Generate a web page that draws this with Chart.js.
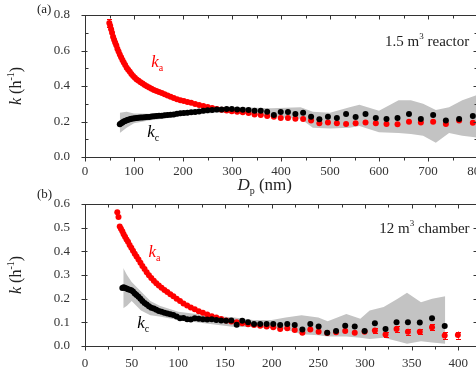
<!DOCTYPE html>
<html><head><meta charset="utf-8">
<script src="https://cdn.jsdelivr.net/npm/chart.js@4.4.1/dist/chart.umd.min.js"></script>
<style>
html,body{margin:0;padding:0;background:#fff;overflow:hidden;width:476px;height:375px;}
#wrap{position:relative;width:476px;height:375px;overflow:hidden;}
canvas{position:absolute;left:0;}
#c1{top:0;width:500px;height:200px;}
#c2{top:180px;width:500px;height:195px;}
</style></head><body>
<div id="wrap"><canvas id="c1" width="500" height="200"></canvas><canvas id="c2" width="500" height="195"></canvas></div>
<script>
// particle diameter bins (nm)
const dp = [34.6, 35.9, 37.2, 38.5, 40.0, 41.4, 42.9, 44.5, 46.1, 47.8, 49.6, 51.4, 53.3, 55.2, 57.3, 59.4, 61.5, 63.8, 66.1, 68.5,
  71.0, 73.7, 76.4, 79.1, 82.0, 85.1, 88.2, 91.4, 94.7, 98.2, 101.8, 105.5, 109.4, 113.4, 117.6, 121.9, 126.3, 131.0, 135.8, 140.7,
  145.9, 151.2, 156.8, 162.5, 168.5, 174.7, 181.1, 187.7, 194.6, 201.7, 209.1, 216.7, 224.7, 232.9, 241.4, 250.3, 259.5, 269.0, 278.8, 289.0,
  299.6, 310.6, 322.0, 333.8, 346.0, 358.7, 371.8, 385.4, 399.5, 414.2, 429.4, 445.1, 461.4, 478.3, 495.8, 514.0, 532.8, 552.3, 572.5, 593.5,
  615.3, 637.8, 661.2, 685.4, 710.5, 736.5, 763.5, 791.5];

// (a) 1.5 m3 reactor
const topKaD = dp.slice(10, 88);
const topKa = [0.755, 0.74, 0.72, 0.70, 0.678, 0.66, 0.645, 0.63, 0.61, 0.595,
  0.578, 0.562, 0.547, 0.532, 0.518, 0.503, 0.492, 0.48, 0.468, 0.456,
  0.446, 0.437, 0.429, 0.421, 0.414, 0.406, 0.398, 0.391, 0.384, 0.378,
  0.372, 0.366, 0.36, 0.353, 0.346, 0.339, 0.332, 0.326, 0.32, 0.315,
  0.31, 0.305, 0.299, 0.293, 0.288, 0.282, 0.276, 0.27, 0.266, 0.262,
  0.258, 0.255, 0.252, 0.248, 0.24, 0.236, 0.231, 0.227, 0.22, 0.22,
  0.216, 0.214, 0.205, 0.19, 0.195, 0.19, 0.186, 0.19, 0.195, 0.19,
  0.186, 0.184, 0.199, 0.195, 0.199, 0.186, 0.205, 0.193];
const topKcD = dp.slice(20, 88);
const topKc = [0.185, 0.19, 0.195, 0.2, 0.203, 0.207, 0.21, 0.213, 0.215, 0.217,
  0.219, 0.22, 0.221, 0.222, 0.223, 0.224, 0.225, 0.226, 0.228, 0.23,
  0.231, 0.232, 0.233, 0.235, 0.236, 0.238, 0.24, 0.243, 0.246, 0.248,
  0.25, 0.252, 0.254, 0.257, 0.26, 0.263, 0.265, 0.267, 0.268, 0.27,
  0.27, 0.268, 0.266, 0.265, 0.26, 0.26, 0.255, 0.237, 0.253, 0.253,
  0.242, 0.25, 0.227, 0.213, 0.227, 0.22, 0.242, 0.225, 0.242, 0.22,
  0.214, 0.22, 0.242, 0.214, 0.237, 0.205, 0.214, 0.231];
const topBandD  = [71, 85, 100, 130, 170, 220, 270, 320, 380, 440, 465, 500, 540, 560, 600, 640, 665, 690, 716, 743, 770, 800];
const topBandHi = [0.25, 0.255, 0.245, 0.243, 0.25, 0.265, 0.28, 0.28, 0.275, 0.28, 0.255, 0.25, 0.28, 0.295, 0.26, 0.32, 0.32, 0.30, 0.265, 0.28, 0.32, 0.35];
const topBandLo = [0.135, 0.165, 0.19, 0.205, 0.22, 0.24, 0.25, 0.245, 0.225, 0.215, 0.165, 0.16, 0.165, 0.175, 0.14, 0.135, 0.13, 0.12, 0.08, 0.135, 0.12, 0.11];
const topErrD = [49.6];
const topErr = [0.02];

// (b) 12 m3 chamber
const botKaD = dp.slice(0, 69);
const botKa = [0.565, 0.545, 0.505, 0.495, 0.485, 0.472, 0.462, 0.45, 0.44, 0.427,
  0.415, 0.402, 0.39, 0.378, 0.365, 0.352, 0.338, 0.325, 0.312, 0.299,
  0.287, 0.276, 0.265, 0.256, 0.246, 0.237, 0.228, 0.219, 0.21, 0.2,
  0.19, 0.18, 0.171, 0.163, 0.155, 0.147, 0.14, 0.133, 0.126, 0.12,
  0.114, 0.108, 0.104, 0.1, 0.096, 0.092, 0.089, 0.086, 0.082, 0.079,
  0.072, 0.075, 0.068, 0.056, 0.07, 0.06, 0.055, 0.058, 0.063, 0.056,
  0.06, 0.065, 0.049, 0.072, 0.06, 0.06, 0.079, 0.044, 0.046];
const botKcD = dp.slice(4, 68);
const botKc = [0.245, 0.248, 0.245, 0.243, 0.24, 0.238, 0.236, 0.23, 0.222, 0.215,
  0.208, 0.2, 0.19, 0.182, 0.175, 0.168, 0.162, 0.158, 0.153, 0.148,
  0.145, 0.14, 0.137, 0.134, 0.131, 0.125, 0.117, 0.118, 0.113, 0.112,
  0.117, 0.115, 0.113, 0.112, 0.113, 0.11, 0.108, 0.107, 0.108, 0.09,
  0.107, 0.1, 0.093, 0.093, 0.093, 0.093, 0.089, 0.093, 0.089, 0.07,
  0.093, 0.082, 0.056, 0.063, 0.086, 0.082, 0.063, 0.096, 0.072, 0.1,
  0.1, 0.099, 0.117, 0.084];
const botBandD  = [41, 45, 50, 60, 70, 80, 100, 130, 160, 180, 200, 215, 232, 250, 260, 280, 295, 305, 320, 335, 345, 360, 372, 386];
const botBandHi = [0.33, 0.30, 0.27, 0.23, 0.19, 0.17, 0.145, 0.13, 0.12, 0.11, 0.11, 0.12, 0.13, 0.12, 0.105, 0.135, 0.115, 0.15, 0.165, 0.20, 0.225, 0.185, 0.20, 0.21];
const botBandLo = [0.16, 0.17, 0.19, 0.15, 0.13, 0.125, 0.11, 0.095, 0.08, 0.08, 0.075, 0.07, 0.05, 0.045, 0.04, 0.04, 0.035, 0.03, 0.035, 0.02, 0.01, 0.02, 0.015, 0.01];
const botErrD = [310.6, 322.0, 333.8, 346.0, 358.7, 371.8, 385.4, 399.5];
const botErr = [0.01, 0.01, 0.012, 0.012, 0.01, 0.013, 0.015, 0.015];

const FAMILY = "'Liberation Serif', 'Times New Roman', serif";
const RED = '#ff0000', GREY = '#c3c3c3', AXIS = '#333';
Chart.defaults.font.family = FAMILY;
Chart.defaults.color = AXIS;

const zip = (xs, ys) => xs.map((x, i) => ({x: x, y: ys[i]}));

function rich(ctx, x, y, segs, align) {
  let w = 0;
  const ms = segs.map(s => {
    ctx.font = (s.it ? 'italic ' : '') + s.sz + 'px ' + FAMILY;
    const m = ctx.measureText(s.t).width; w += m; return m;
  });
  let cx = align === 'right' ? x - w : align === 'center' ? x - w / 2 : x;
  segs.forEach((s, i) => {
    ctx.font = (s.it ? 'italic ' : '') + s.sz + 'px ' + FAMILY;
    ctx.fillStyle = s.c || '#222';
    ctx.textBaseline = 'alphabetic';
    ctx.textAlign = 'left';
    ctx.fillText(s.t, cx, y + (s.dy || 0));
    cx += ms[i];
  });
}

function makeChart(id, cfg) {
  const framePlugin = {
    id: 'frame',
    afterDraw(chart) {
      const ctx = chart.ctx, a = chart.chartArea, xs = chart.scales.x, ys = chart.scales.y;
      const L = Math.round(a.left) + 0.5, R = Math.round(a.right) + 0.5, T = Math.round(a.top) + 0.5, B = Math.round(a.bottom) + 0.5;
      ctx.save();
      // error bars
      ctx.strokeStyle = RED; ctx.lineWidth = 1;
      cfg.errD.forEach((d, i) => {
        const j = cfg.kaD.indexOf(d);
        if (j < 0) return;
        const px = Math.round(xs.getPixelForValue(d)) + 0.5;
        const v = cfg.ka[j], e = cfg.err[i];
        const y1 = ys.getPixelForValue(v + e), y2 = ys.getPixelForValue(v - e);
        ctx.beginPath();
        ctx.moveTo(px, y1); ctx.lineTo(px, y2);
        ctx.moveTo(px - 2.5, Math.round(y1) + 0.5); ctx.lineTo(px + 2.5, Math.round(y1) + 0.5);
        ctx.moveTo(px - 2.5, Math.round(y2) + 0.5); ctx.lineTo(px + 2.5, Math.round(y2) + 0.5);
        ctx.stroke();
      });
      // frame
      ctx.strokeStyle = AXIS; ctx.lineWidth = 1;
      ctx.strokeRect(L, T, R - L, B - T);
      ctx.beginPath();
      const xt = xs.ticks.map(t => t.value);
      xt.forEach(v => {
        const p = Math.round(xs.getPixelForValue(v)) + 0.5;
        ctx.moveTo(p, B); ctx.lineTo(p, B + 4);
        ctx.moveTo(p, T); ctx.lineTo(p, T + 4);
      });
      for (let i = 0; i < xt.length - 1; i++) {
        const p = Math.round(xs.getPixelForValue((xt[i] + xt[i + 1]) / 2)) + 0.5;
        ctx.moveTo(p, B); ctx.lineTo(p, B + 3);
        ctx.moveTo(p, T); ctx.lineTo(p, T + 3);
      }
      const yt = ys.ticks.map(t => t.value);
      yt.forEach(v => {
        const p = Math.round(ys.getPixelForValue(v)) + 0.5;
        ctx.moveTo(L - 4, p); ctx.lineTo(L + 2, p);
        ctx.moveTo(R, p); ctx.lineTo(R - 4, p);
      });
      if (cfg.yMinor) {
        for (let i = 0; i < yt.length - 1; i++) {
          const p = Math.round(ys.getPixelForValue((yt[i] + yt[i + 1]) / 2)) + 0.5;
          ctx.moveTo(L, p); ctx.lineTo(L + 3, p);
          ctx.moveTo(R, p); ctx.lineTo(R - 3, p);
        }
      }
      ctx.stroke();
      // texts
      rich(ctx, a.left - 48, cfg.tagY, [{t: cfg.tag, sz: 13}]);
      ctx.save();
      ctx.translate(21, (a.top + a.bottom) / 2);
      ctx.rotate(-Math.PI / 2);
      rich(ctx, 0, 0, [{t: 'k', sz: 16, it: true}, {t: ' (h', sz: 16}, {t: '-1', sz: 10, dy: -7}, {t: ')', sz: 16}], 'center');
      ctx.restore();
      if (cfg.xTitle) {
        rich(ctx, xs.getPixelForValue(cfg.xTitle[0]), a.bottom + cfg.xTitle[1],
          [{t: 'D', sz: 17, it: true}, {t: 'p', sz: 10, dy: 4}, {t: ' (nm)', sz: 17}]);
      }
      rich(ctx, xs.getPixelForValue(cfg.kaLab[0]), ys.getPixelForValue(cfg.kaLab[1]),
        [{t: 'k', sz: 17, it: true, c: RED}, {t: 'a', sz: 10, dy: 4, c: RED}]);
      rich(ctx, xs.getPixelForValue(cfg.kcLab[0]), ys.getPixelForValue(cfg.kcLab[1]),
        [{t: 'k', sz: 17, it: true, c: '#000'}, {t: 'c', sz: 10, dy: 4, c: '#000'}]);
      rich(ctx, xs.getPixelForValue(cfg.name[0]), ys.getPixelForValue(cfg.name[1]),
        [{t: cfg.name[2], sz: 15}, {t: '3', sz: 9, dy: -7}, {t: cfg.name[3], sz: 15}], 'right');
      ctx.restore();
    }
  };
  return new Chart(document.getElementById(id), {
    type: 'line',
    data: {
      datasets: [
        {data: zip(cfg.bandD, cfg.bandHi), showLine: true, pointRadius: 0, borderWidth: 0, borderColor: 'rgba(0,0,0,0)', backgroundColor: GREY, fill: '+1', tension: 0, order: 10},
        {data: zip(cfg.bandD, cfg.bandLo), showLine: true, pointRadius: 0, borderWidth: 0, borderColor: 'rgba(0,0,0,0)', backgroundColor: GREY, fill: false, tension: 0, order: 9},
        {data: zip(cfg.kaD, cfg.ka), showLine: false, pointRadius: 3, pointBackgroundColor: RED, pointBorderWidth: 0, backgroundColor: RED, order: 5},
        {data: zip(cfg.kcD, cfg.kc), showLine: false, pointRadius: 3, pointBackgroundColor: '#000', pointBorderWidth: 0, backgroundColor: '#000', order: 1}
      ]
    },
    options: {
      responsive: false, animation: false, events: [],
      layout: {padding: {top: cfg.padTop, right: 23, left: 0, bottom: 0}},
      plugins: {legend: {display: false}, tooltip: {enabled: false}},
      scales: {
        x: {type: 'linear', min: 0, max: cfg.xmax,
          ticks: {stepSize: cfg.xstep, padding: cfg.xpad, includeBounds: false, maxRotation: 0, autoSkip: false, color: AXIS, font: {size: 13}},
          grid: {display: false, drawTicks: false}, border: {display: false},
          afterFit: s => { s.height = cfg.xh; }},
        y: {type: 'linear', min: 0, max: cfg.ymax,
          ticks: {stepSize: cfg.ystep, padding: 7, includeBounds: false, color: AXIS, font: {size: 13}, callback: v => v.toFixed(1)},
          grid: {display: false}, border: {display: false},
          afterFit: s => { s.width = 85; }}
      }
    },
    plugins: [framePlugin]
  });
}

makeChart('c1', {
  kaD: topKaD, ka: topKa, kcD: topKcD, kc: topKc,
  bandD: topBandD, bandHi: topBandHi, bandLo: topBandLo,
  errD: topErrD, err: topErr,
  xmax: 800, xstep: 100, ymax: 0.8, ystep: 0.2, yMinor: true,
  padTop: 15, xh: 43, xpad: 7, tag: '(a)', tagY: 13,
  xTitle: [311, 33],
  kaLab: [135, 0.507], kcLab: [127, 0.113],
  name: [784, 0.625, '1.5 m', ' reactor']
});
makeChart('c2', {
  kaD: botKaD, ka: botKa, kcD: botKcD, kc: botKc,
  bandD: botBandD, bandHi: botBandHi, bandLo: botBandLo,
  errD: botErrD, err: botErr,
  xmax: 420, xstep: 50, ymax: 0.6, ystep: 0.1, yMinor: false,
  padTop: 24, xh: 29, xpad: 10, tag: '(b)', tagY: 18,
  xTitle: null,
  kaLab: [68, 0.376], kcLab: [56, 0.076],
  name: [412, 0.477, '12 m', ' chamber']
});
</script>
</body></html>
